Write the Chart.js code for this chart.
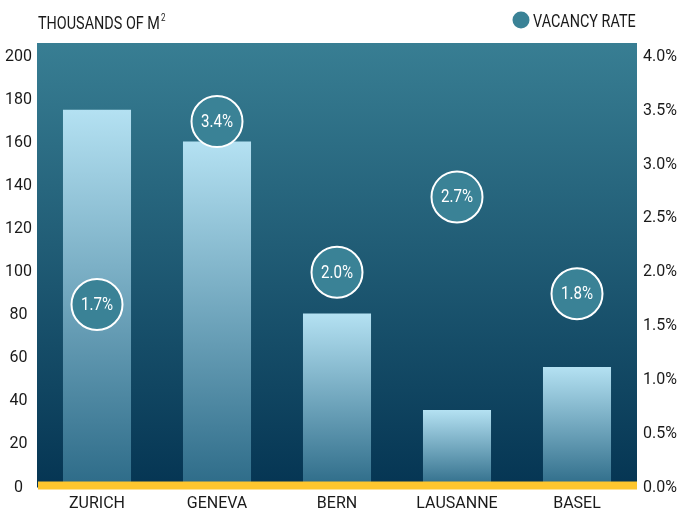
<!DOCTYPE html>
<html lang="en">
<head>
    <meta charset="UTF-8">
    <title>Office Space and Vacancy Rate</title>
    <script src="https://cdn.jsdelivr.net/npm/chart.js"></script>
    <style>
        body { margin: 0; background: #ffffff; }
        #wrap { width: 681px; height: 515px; }
    </style>
</head>
<body>
    <div id="wrap"><canvas id="officeChart" width="681" height="515"></canvas></div>
    <script>
        const cities = ['ZURICH', 'GENEVA', 'BERN', 'LAUSANNE', 'BASEL'];
        const space = [175.5, 160.7, 80.8, 36, 56];   // thousands of m2
        const vacancy = [1.7, 3.4, 2.0, 2.7, 1.8];    // percent
        const leftTicks = [0, 20, 40, 60, 80, 100, 120, 140, 160, 180, 200];
        const rightTicks = [0, 0.5, 1, 1.5, 2, 2.5, 3, 3.5, 4];

        const FONT = "Roboto, 'Liberation Sans', sans-serif";

        // draws text squeezed horizontally to look like a condensed face
        function narrowText(ctx, text, x, y, squeeze) {
            ctx.save();
            ctx.translate(x, y);
            ctx.scale(squeeze, 1);
            ctx.fillText(text, 0, 0);
            ctx.restore();
        }

        // backdrop, yellow base line, circle labels, title and legend
        const decor = {
            id: 'decor',
            beforeDatasetsDraw(chart) {
                const { ctx, chartArea: a } = chart;
                const top = a.top - 14;
                const g = ctx.createLinearGradient(0, top, 0, a.bottom);
                g.addColorStop(0, '#387e93');
                g.addColorStop(1, '#053553');
                ctx.save();
                ctx.fillStyle = g;
                ctx.fillRect(a.left, top, a.right - a.left, a.bottom - top);
                ctx.restore();
            },
            afterDatasetsDraw(chart) {
                const { ctx, chartArea: a } = chart;
                ctx.save();
                ctx.fillStyle = '#fec62e';
                ctx.fillRect(a.left + 1, a.bottom - 6, a.right - a.left - 1, 8);

                // labels inside circles
                const meta = chart.getDatasetMeta(0);
                ctx.fillStyle = '#ffffff';
                ctx.font = '18px ' + FONT;
                ctx.textAlign = 'center';
                ctx.textBaseline = 'middle';
                meta.data.forEach((pt, i) => {
                    narrowText(ctx, vacancy[i].toFixed(1) + '%', pt.x, pt.y + 1, 0.84);
                });

                // title
                ctx.fillStyle = '#1a1a1a';
                ctx.textAlign = 'left';
                ctx.textBaseline = 'alphabetic';
                ctx.font = '18px ' + FONT;
                const sq = 0.8;
                narrowText(ctx, 'THOUSANDS OF M', 38, 29, sq);
                const w = ctx.measureText('THOUSANDS OF M').width * sq;
                ctx.font = '10px ' + FONT;
                narrowText(ctx, '2', 38 + w + 1, 21, sq);

                // legend
                ctx.beginPath();
                ctx.arc(521, 20, 8.5, 0, Math.PI * 2);
                ctx.fillStyle = '#3a8296';
                ctx.fill();
                ctx.fillStyle = '#1a1a1a';
                ctx.font = '18px ' + FONT;
                narrowText(ctx, 'VACANCY RATE', 533, 27, 0.8);
                ctx.restore();
            }
        };

        function barGradient(context) {
            const chart = context.chart;
            if (!chart.chartArea || !chart.scales.y) return '#8cbfd6';
            const y = chart.scales.y;
            const top = y.getPixelForValue(context.raw);
            const base = y.getPixelForValue(0);
            const g = chart.ctx.createLinearGradient(0, top, 0, base);
            g.addColorStop(0, '#b4e1f2');
            g.addColorStop(1, '#2d6b88');
            return g;
        }

        const tickFont = { family: FONT, size: 16 };

        const ctx = document.getElementById('officeChart').getContext('2d');
        new Chart(ctx, {
            data: {
                labels: cities,
                datasets: [{
                    type: 'line',
                    label: 'VACANCY RATE',
                    data: vacancy,
                    yAxisID: 'y1',
                    showLine: false,
                    pointRadius: 25.5,
                    pointHoverRadius: 25.5,
                    pointBackgroundColor: '#3a8296',
                    pointBorderColor: '#ffffff',
                    pointBorderWidth: 2,
                    order: 0
                }, {
                    type: 'bar',
                    label: 'THOUSANDS OF M2',
                    data: space,
                    yAxisID: 'y',
                    backgroundColor: barGradient,
                    borderWidth: 0,
                    barPercentage: 0.567,
                    categoryPercentage: 1,
                    order: 1
                }]
            },
            options: {
                responsive: false,
                animation: false,
                layout: { padding: { top: 57, left: 0, right: 0, bottom: 0 } },
                plugins: {
                    legend: { display: false },
                    tooltip: { enabled: false }
                },
                scales: {
                    x: {
                        grid: { display: false, drawTicks: false },
                        border: { display: false },
                        ticks: { color: '#1a1a1a', font: tickFont, padding: 7 },
                        afterFit(s) { s.height = 24; }
                    },
                    y: {
                        position: 'left',
                        min: 0,
                        max: 200,
                        afterBuildTicks(s) { s.ticks = leftTicks.map(v => ({ value: v })); },
                        grid: { display: false, drawTicks: false },
                        border: { display: false },
                        ticks: { color: '#1a1a1a', font: tickFont, padding: 5, crossAlign: 'center' },
                        afterFit(s) { s.width = 37; }
                    },
                    y1: {
                        position: 'right',
                        min: 0,
                        max: 4,
                        afterBuildTicks(s) { s.ticks = rightTicks.map(v => ({ value: v })); },
                        grid: { display: false, drawTicks: false },
                        border: { display: false },
                        ticks: {
                            color: '#1a1a1a',
                            font: tickFont,
                            padding: 6,
                            callback: v => v.toFixed(1) + '%'
                        },
                        afterFit(s) { s.width = 44; }
                    }
                }
            },
            plugins: [decor]
        });
    </script>
</body>
</html>
